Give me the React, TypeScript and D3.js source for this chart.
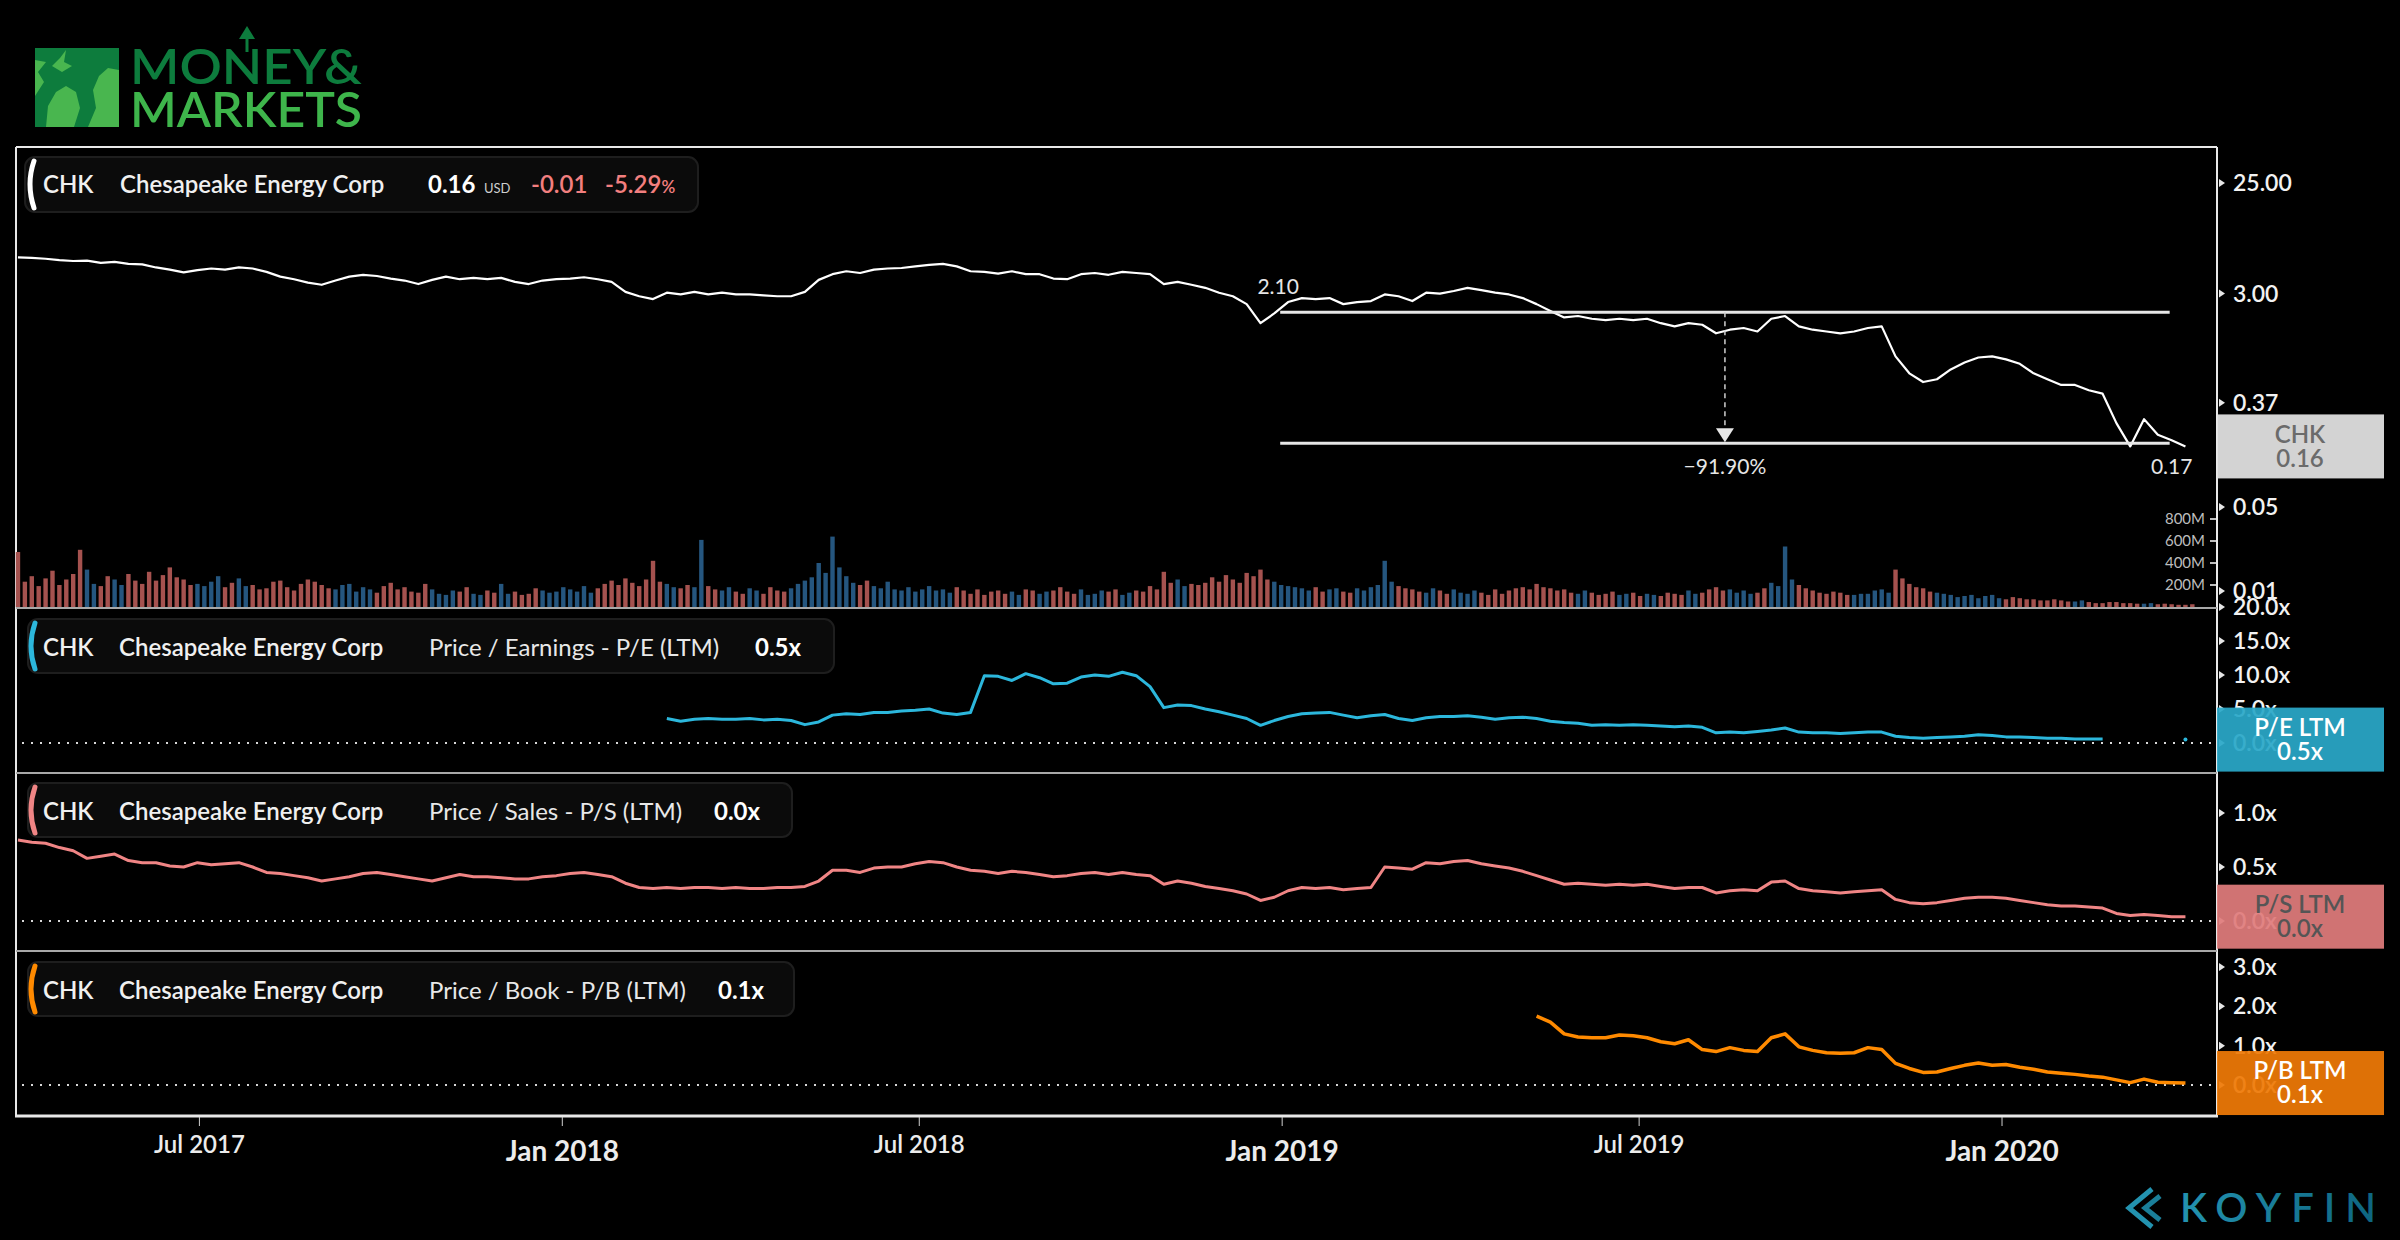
import React from "react";
import * as d3 from "d3";

// weekly closes, first week ending 2017-03-31
const START = new Date(2017, 2, 31);

const priceValues = [
  6.0, 5.95, 5.85, 5.7, 5.6, 5.65, 5.4, 5.5, 5.3, 5.25,
  4.95, 4.75, 4.5, 4.7, 4.85, 4.75, 4.95, 4.85, 4.55, 4.15,
  3.95, 3.7, 3.55, 3.85, 4.15, 4.3, 4.2, 4.0, 3.85, 3.6,
  3.9, 4.15, 3.95, 4.05, 3.95, 4.05, 3.75, 3.6, 3.85, 3.95,
  4.0, 4.1, 3.95, 3.75, 3.1, 2.85, 2.7, 3.05, 2.95, 3.1,
  2.95, 3.05, 2.95, 2.95, 2.9, 2.85, 2.85, 3.1, 3.9, 4.35,
  4.6, 4.45, 4.75, 4.85, 4.9, 5.05, 5.2, 5.3, 5.05, 4.6,
  4.55, 4.4, 4.6, 4.35, 4.35, 4.0, 3.95, 4.35, 4.45, 4.3,
  4.55, 4.45, 4.35, 3.6, 3.75, 3.55, 3.35, 3.05, 2.85, 2.45,
  1.7, 2.05, 2.55, 2.75, 2.7, 2.75, 2.45, 2.55, 2.6, 2.95,
  2.85, 2.6, 3.05, 3.0, 3.15, 3.35, 3.2, 3.05, 2.95, 2.75,
  2.45, 2.15, 1.9, 1.95, 1.85, 1.8, 1.85, 1.8, 1.85, 1.7,
  1.6, 1.7, 1.65, 1.4, 1.5, 1.55, 1.45, 1.85, 1.95, 1.6,
  1.5, 1.45, 1.4, 1.45, 1.55, 1.6, 0.9, 0.65, 0.55, 0.58,
  0.7, 0.8, 0.88, 0.9, 0.85, 0.78, 0.65, 0.58, 0.52, 0.52,
  0.47, 0.44, 0.25, 0.16, 0.27, 0.2, 0.18, 0.16,
];

const psValues = [
  0.75, 0.73, 0.72, 0.68, 0.65, 0.58, 0.6, 0.62, 0.56, 0.54,
  0.54, 0.51, 0.5, 0.54, 0.52, 0.53, 0.54, 0.5, 0.45, 0.44,
  0.42, 0.4, 0.37, 0.39, 0.41, 0.44, 0.45, 0.43, 0.41, 0.39,
  0.37, 0.4, 0.43, 0.41, 0.41, 0.4, 0.39, 0.39, 0.41, 0.42,
  0.44, 0.45, 0.43, 0.41, 0.35, 0.31, 0.3, 0.31, 0.3, 0.31,
  0.31, 0.3, 0.31, 0.3, 0.3, 0.31, 0.31, 0.32, 0.37, 0.47,
  0.47, 0.45, 0.49, 0.5, 0.5, 0.53, 0.55, 0.54, 0.5, 0.47,
  0.46, 0.44, 0.46, 0.45, 0.43, 0.41, 0.42, 0.44, 0.45, 0.43,
  0.45, 0.43, 0.42, 0.34, 0.37, 0.35, 0.32, 0.3, 0.28, 0.25,
  0.19, 0.22, 0.28, 0.31, 0.3, 0.31, 0.29, 0.3, 0.31, 0.5,
  0.49, 0.48, 0.54, 0.53, 0.55, 0.56, 0.53, 0.51, 0.49, 0.46,
  0.42, 0.38, 0.34, 0.35, 0.34, 0.33, 0.34, 0.33, 0.34, 0.32,
  0.3, 0.31, 0.31, 0.26, 0.28, 0.29, 0.28, 0.36, 0.37, 0.3,
  0.28, 0.27, 0.26, 0.27, 0.28, 0.29, 0.2, 0.17, 0.16, 0.17,
  0.19, 0.21, 0.22, 0.22, 0.21, 0.19, 0.17, 0.15, 0.14, 0.14,
  0.13, 0.12, 0.07, 0.05, 0.06, 0.05, 0.04, 0.04,
];

const peStartWeek = 47;
const peValues = [
  3.6, 3.2, 3.5, 3.6, 3.5, 3.5, 3.6, 3.4, 3.5, 3.3,
  2.7, 3.1, 4.1, 4.3, 4.2, 4.5, 4.5, 4.7, 4.8, 5.0,
  4.4, 4.2, 4.5, 9.9, 9.8, 9.2, 10.2, 9.6, 8.7, 8.8,
  9.7, 10.0, 9.8, 10.4, 9.9, 8.3, 5.2, 5.6, 5.5, 5.0,
  4.6, 4.1, 3.6, 2.6, 3.3, 3.9, 4.3, 4.4, 4.5, 4.1,
  3.7, 4.0, 4.2, 3.6, 3.3, 3.7, 3.9, 3.9, 4.0, 3.8,
  3.5, 3.7, 3.8, 3.6, 3.2, 3.0, 2.9, 2.6, 2.7, 2.6,
  2.7, 2.6, 2.5, 2.4, 2.5, 2.3, 1.5, 1.6, 1.5, 1.7,
  1.9, 2.2, 1.6, 1.5, 1.5, 1.4, 1.5, 1.6, 1.6, 1.0,
  0.8, 0.7, 0.8, 0.9, 1.0, 1.2, 1.1, 0.9, 0.9, 0.8,
  0.7, 0.7, 0.6, 0.6, 0.6,
];
const peLastWeek = 157;
const peLast = 0.5;

const pbStartWeek = 110;
const pbValues = [
  1.75, 1.6, 1.3, 1.22, 1.2, 1.2, 1.27, 1.25, 1.2, 1.1,
  1.05, 1.15, 0.9, 0.85, 0.95, 0.88, 0.85, 1.2, 1.3, 0.97,
  0.88, 0.82, 0.81, 0.82, 0.95, 0.9, 0.55, 0.42, 0.32, 0.33,
  0.42, 0.5, 0.56, 0.5, 0.52, 0.45, 0.4, 0.33, 0.3, 0.27,
  0.23, 0.2, 0.13, 0.06, 0.15, 0.07, 0.06, 0.05,
];

// volume in millions, two bars per week
const volumeValues = [
  500, 230, 280, 190, 260, 330, 200, 250, 300, 520, 340, 210, 190, 280, 250, 200, 300, 240, 210, 320,
  240, 290, 360, 270, 250, 200, 210, 190, 230, 280, 180, 220, 260, 190, 200, 160, 170, 230, 240, 180,
  150, 210, 250, 230, 200, 170, 160, 200, 210, 140, 180, 160, 130, 190, 220, 160, 180, 140, 130, 210,
  160, 120, 110, 150, 140, 180, 120, 110, 150, 130, 210, 120, 140, 110, 120, 170, 150, 130, 140, 180,
  160, 140, 190, 130, 170, 210, 240, 200, 260, 220, 190, 250, 420, 230, 210, 180, 170, 200, 180, 610,
  190, 160, 150, 180, 140, 120, 170, 150, 120, 180, 150, 140, 170, 210, 240, 270, 400, 310, 640, 360,
  280, 220, 200, 240, 190, 170, 230, 160, 150, 180, 140, 160, 190, 150, 160, 130, 180, 150, 120, 160,
  110, 140, 150, 120, 140, 110, 160, 150, 120, 140, 150, 180, 140, 120, 160, 110, 120, 150, 140, 160,
  110, 130, 150, 140, 190, 160, 320, 220, 250, 190, 210, 200, 220, 270, 230, 290, 250, 220, 310, 280,
  340, 250, 230, 200, 190, 180, 170, 150, 180, 140, 160, 170, 140, 130, 170, 150, 180, 200, 420, 230,
  190, 170, 160, 140, 130, 170, 150, 120, 160, 130, 120, 150, 130, 110, 160, 120, 150, 170, 180, 160,
  210, 180, 170, 150, 160, 130, 120, 150, 130, 110, 120, 140, 110, 120, 130, 100, 120, 110, 100, 130,
  120, 110, 150, 120, 130, 160, 180, 150, 160, 130, 150, 120, 130, 170, 220, 190, 550, 250, 200, 170,
  150, 130, 120, 140, 130, 110, 110, 120, 120, 150, 160, 130, 340, 260, 210, 180, 170, 140, 130, 120,
  110, 90, 100, 110, 80, 100, 110, 80, 70, 90, 80, 70, 70, 60, 60, 70, 60, 50, 50, 60,
  45, 35, 35, 45, 45, 35, 35, 30, 30, 35, 25, 30, 25, 20, 20, 25,
];

const priceTicks = [25, 3, 0.37, 0.05, 0.01];
const volumeTicks = [200, 400, 600, 800];
const peTicks = [0, 5, 10, 15, 20];
const psTicks = [0, 0.5, 1];
const pbTicks = [0, 1, 2, 3];
const xTickDates = ["2017-07-01", "2018-01-01", "2018-07-01", "2019-01-01", "2019-07-01", "2020-01-01"];

// drawdown annotation
const annStart = "2018-12-31";
const annEnd = "2020-03-26";
const annFrom = 2.1;
const annTo = 0.17;

const FONT = "Lato, 'Open Sans', sans-serif";
const parseDay = d3.timeParse("%Y-%m-%d");
const weekDate = (i: number) => d3.timeDay.offset(START, 7 * i);

const x = d3.scaleTime().domain([new Date(2017, 2, 30), new Date(2020, 3, 19)]).range([16, 2217]);
const yPrice = d3.scaleLog().domain([25, 0.01]).range([183, 591]);
const yVol = d3.scaleLinear().domain([0, 800]).range([607, 519]);
const yPE = d3.scaleLinear().domain([0, 20]).range([743, 607]);
const yPS = d3.scaleLinear().domain([0, 1]).range([921, 813]);
const yPB = d3.scaleLinear().domain([0, 3]).range([1085, 967]);

const PLOT_L = 16;
const PLOT_R = 2217;

function AxisLabels({ ticks, scale, fmt }: { ticks: number[]; scale: any; fmt: (v: number) => string }) {
  return (
    <g>
      {ticks.map((t) => {
        const y = scale(t);
        return (
          <g key={t}>
            <path d={`M${PLOT_R + 2},${y - 4}L${PLOT_R + 8},${y}L${PLOT_R + 2},${y + 4}Z`} fill="#e6e6e6" />
            <text x={PLOT_R + 16} y={y} dy="0.35em" fill="#f2f2f2" fontSize={23} fontWeight={600} fontFamily={FONT}>
              {fmt(t)}
            </text>
          </g>
        );
      })}
    </g>
  );
}

function Tag({ cy, fill, color, l1, l2 }: { cy: number; fill: string; color: string; l1: string; l2: string }) {
  const top = cy - 32;
  return (
    <g fontFamily={FONT} textAnchor="middle" fontSize={24}>
      <rect x={PLOT_R} y={top} width={167} height={64} fill={fill} fillOpacity={0.93} />
      <text x={2300} y={top + 20} dy="0.35em" fill={color} fontWeight={600}>{l1}</text>
      <text x={2300} y={top + 44} dy="0.35em" fill={color} fontWeight={600}>{l2}</text>
    </g>
  );
}

function PanelHeader({ top, color, metric, value, width, valueX }: { top: number; color: string; metric: string; value: string; width: number; valueX: number }) {
  const base = top + 37;
  return (
    <g fontFamily={FONT} fontSize={24}>
      <rect x={28} y={top} width={width} height={54} rx={10} fill="#0b0b0b" stroke="#1e1e1e" strokeWidth={2} />
      <path d={`M35,${top + 4}Q27,${top + 27} 35,${top + 50}`} fill="none" stroke={color} strokeWidth={5} strokeLinecap="round" />
      <text x={43} y={base} fill="#f0f0f0" fontWeight={600}>CHK</text>
      <text x={119} y={base} fill="#f0f0f0" fontWeight={600}>Chesapeake Energy Corp</text>
      <text x={429} y={base} fill="#e8e8e8">{metric}</text>
      <text x={valueX} y={base} fill="#ffffff" fontWeight={700}>{value}</text>
    </g>
  );
}

export default function App() {
  const priceLine = d3.line<number>().x((_, i) => x(weekDate(i))).y((d) => yPrice(d));
  const psLine = d3.line<number>().x((_, i) => x(weekDate(i))).y((d) => yPS(d));
  const peLine = d3.line<number>().x((_, i) => x(weekDate(peStartWeek + i))).y((d) => yPE(d));
  const pbLine = d3.line<number>().x((_, i) => x(weekDate(pbStartWeek + i))).y((d) => yPB(d));

  const barW = 4.4;
  const bars = volumeValues.map((v, j) => {
    const w = Math.floor(j / 2);
    const up = w > 0 && priceValues[w] >= priceValues[w - 1];
    const cx = x(d3.timeHour.offset(START, 84 * j));
    return { x: cx - barW / 2, y: yVol(v), h: yVol(0) - yVol(v), c: up ? "#25567f" : "#a5524f" };
  });

  const ax0 = x(parseDay(annStart) as Date);
  const ax1 = x(parseDay(annEnd) as Date);
  const axm = (ax0 + ax1) / 2;
  const ay0 = yPrice(annFrom);
  const ay1 = yPrice(annTo);
  const pct = d3.format(".2%")((annTo - annFrom) / annFrom);

  const lastPrice = priceValues[priceValues.length - 1];
  const lastPS = psValues[psValues.length - 1];
  const lastPB = pbValues[pbValues.length - 1];

  const fmtX = d3.timeFormat("%b %Y");

  return (
    <svg width={2400} height={1240} style={{ position: "absolute", left: 0, top: 0, display: "block" }}>
      <rect width={2400} height={1240} fill="#000" />

      {/* Money & Markets logo */}
      <g>
        <rect x={35} y={48} width={84} height={79} fill="#49b64f" />
        <path d="M35,48H119V70L108,68L99,76L93,90L96,108L88,127H74L80,108L76,92L66,86L56,92L48,106L46,127H35V96L44,82L38,72L46,62L35,60Z" fill="#0d7c3d" />
        <path d="M52,66L60,58L66,50L64,62L72,66L62,72Z" fill="#49b64f" />
        <text x={130} y={84} fontSize={48} fontWeight={600} fill="#0d7c3d" fontFamily={FONT} textLength={232} lengthAdjust="spacingAndGlyphs">MONEY&amp;</text>
        <text x={130} y={127} fontSize={48} fontWeight={600} fill="#3eb54b" fontFamily={FONT} textLength={232} lengthAdjust="spacingAndGlyphs">MARKETS</text>
        <line x1={247} y1={36} x2={247} y2={52} stroke="#0d7c3d" strokeWidth={3} />
        <path d="M239,39L247,26L255,39Z" fill="#0d7c3d" />
      </g>

      {/* frame and panel separators */}
      <g fill="none">
        <line x1={PLOT_L} x2={PLOT_R} y1={147} y2={147} stroke="#e8e8e8" strokeWidth={2} />
        <line x1={PLOT_L} x2={PLOT_L} y1={147} y2={1117} stroke="#e8e8e8" strokeWidth={2} />
        <line x1={PLOT_R} x2={PLOT_R} y1={147} y2={1117} stroke="#e8e8e8" strokeWidth={2} />
        <line x1={PLOT_L} x2={PLOT_R} y1={608} y2={608} stroke="#a8a8a8" strokeWidth={2} />
        <line x1={PLOT_L} x2={PLOT_R} y1={773} y2={773} stroke="#a8a8a8" strokeWidth={2} />
        <line x1={PLOT_L} x2={PLOT_R} y1={951} y2={951} stroke="#a8a8a8" strokeWidth={2} />
        <line x1={PLOT_L - 1} x2={PLOT_R + 1} y1={1116} y2={1116} stroke="#e8e8e8" strokeWidth={3} />
      </g>

      {/* zero lines */}
      <g stroke="#d8d8d8" strokeWidth={2} strokeDasharray="2 7">
        <line x1={22} x2={PLOT_R - 3} y1={yPE(0)} y2={yPE(0)} />
        <line x1={22} x2={PLOT_R - 3} y1={yPS(0)} y2={yPS(0)} />
        <line x1={22} x2={PLOT_R - 3} y1={yPB(0)} y2={yPB(0)} />
      </g>

      {/* volume */}
      <g>
        {bars.map((b, i) => (
          <rect key={i} x={b.x} y={b.y} width={barW} height={b.h} fill={b.c} />
        ))}
      </g>
      <g fontFamily={FONT} fontSize={15} fill="#bdbdbd" textAnchor="end">
        {volumeTicks.map((t) => (
          <g key={t}>
            <line x1={PLOT_R - 7} x2={PLOT_R - 1} y1={yVol(t)} y2={yVol(t)} stroke="#bdbdbd" strokeWidth={2} />
            <text x={PLOT_R - 12} y={yVol(t)} dy="0.35em">{t}M</text>
          </g>
        ))}
      </g>

      {/* series lines */}
      <path d={priceLine(priceValues) || ""} fill="none" stroke="#ffffff" strokeWidth={2.2} strokeLinejoin="round" />
      <path d={peLine(peValues) || ""} fill="none" stroke="#2cb7dc" strokeWidth={3} strokeLinejoin="round" />
      <circle cx={x(weekDate(peLastWeek))} cy={yPE(peLast)} r={2} fill="#2cb7dc" />
      <path d={psLine(psValues) || ""} fill="none" stroke="#f08585" strokeWidth={3} strokeLinejoin="round" />
      <path d={pbLine(pbValues) || ""} fill="none" stroke="#ff8a00" strokeWidth={3.5} strokeLinejoin="round" />

      {/* drawdown annotation */}
      <g fontFamily={FONT} fontSize={21} fill="#e6e6e6">
        <line x1={ax0} x2={ax1} y1={ay0} y2={ay0} stroke="#e6e6e6" strokeWidth={3} />
        <line x1={ax0} x2={ax1} y1={ay1} y2={ay1} stroke="#e6e6e6" strokeWidth={3} />
        <line x1={axm} x2={axm} y1={ay0} y2={ay1 - 14} stroke="#cfcfcf" strokeWidth={1.5} strokeDasharray="5 4" />
        <path d={`M${axm - 9},${ay1 - 15}L${axm + 9},${ay1 - 15}L${axm},${ay1 - 1}Z`} fill="#e6e6e6" />
        <text x={ax0 - 2} y={ay0 - 18} textAnchor="middle">{annFrom.toFixed(2)}</text>
        <text x={axm} y={ay1 + 31} textAnchor="middle">{pct}</text>
        <text x={ax1 + 2} y={ay1 + 31} textAnchor="middle">{annTo.toFixed(2)}</text>
      </g>

      {/* headers */}
      <g fontFamily={FONT} fontSize={24}>
        <rect x={25} y={157} width={673} height={55} rx={10} fill="#0b0b0b" stroke="#1e1e1e" strokeWidth={2} />
        <path d="M34,161Q26,184 34,208" fill="none" stroke="#ffffff" strokeWidth={5} strokeLinecap="round" />
        <text x={43} y={193} fill="#f0f0f0" fontWeight={600}>CHK</text>
        <text x={120} y={193} fill="#f0f0f0" fontWeight={600}>Chesapeake Energy Corp</text>
        <text x={428} y={193} fill="#ffffff" fontWeight={700}>{lastPrice.toFixed(2)}</text>
        <text x={484} y={193} fill="#cfcfcf" fontSize={13}>USD</text>
        <text x={531} y={193} fill="#f27f7f" fontWeight={600}>-0.01</text>
        <text x={605} y={193} fill="#f27f7f" fontWeight={600}>-5.29<tspan fontSize={17}>%</tspan></text>
      </g>
      <PanelHeader top={619} color="#2cb7dc" metric="Price / Earnings - P/E (LTM)" value={`${peLast.toFixed(1)}x`} width={806} valueX={755} />
      <PanelHeader top={783} color="#f08585" metric="Price / Sales - P/S (LTM)" value={`${lastPS.toFixed(1)}x`} width={764} valueX={714} />
      <PanelHeader top={962} color="#ff8a00" metric="Price / Book - P/B (LTM)" value={`${lastPB.toFixed(1)}x`} width={766} valueX={718} />

      {/* right axes */}
      <AxisLabels ticks={priceTicks} scale={yPrice} fmt={(v) => v.toFixed(2)} />
      <AxisLabels ticks={peTicks} scale={yPE} fmt={(v) => `${v.toFixed(1)}x`} />
      <AxisLabels ticks={psTicks} scale={yPS} fmt={(v) => `${v.toFixed(1)}x`} />
      <AxisLabels ticks={pbTicks} scale={yPB} fmt={(v) => `${v.toFixed(1)}x`} />

      {/* last-value tags */}
      <Tag cy={yPrice(lastPrice)} fill="#e3e3e3" color="#6b6b6b" l1="CHK" l2={lastPrice.toFixed(2)} />
      <Tag cy={yPE(peLast)} fill="#2aa8c8" color="#ffffff" l1="P/E LTM" l2={`${peLast.toFixed(1)}x`} />
      <Tag cy={yPS(lastPS)} fill="#e07c7c" color="#555555" l1="P/S LTM" l2={`${lastPS.toFixed(1)}x`} />
      <Tag cy={yPB(lastPB)} fill="#ef7a06" color="#ffffff" l1="P/B LTM" l2={`${lastPB.toFixed(1)}x`} />

      {/* x axis */}
      <g fontFamily={FONT} textAnchor="middle" fill="#ececec">
        {xTickDates.map((s) => {
          const d = parseDay(s) as Date;
          const jan = d.getMonth() === 0;
          const px = x(d);
          return (
            <g key={s}>
              <line x1={px} x2={px} y1={1117} y2={1126} stroke="#cfcfcf" strokeWidth={1} />
              <text x={px} y={jan ? 1161 : 1153} fontSize={jan ? 28 : 24} fontWeight={jan ? 700 : 600}>
                {fmtX(d)}
              </text>
            </g>
          );
        })}
      </g>

      {/* Koyfin logo */}
      <defs>
        <linearGradient id="kf" x1="0" x2="1" y1="0" y2="0">
          <stop offset="0" stopColor="#2393b0" />
          <stop offset="1" stopColor="#0e6580" />
        </linearGradient>
      </defs>
      <g>
        <path d="M2152,1189L2129,1208L2152,1227" fill="none" stroke="#2393b0" strokeWidth={5} />
        <path d="M2160,1196L2145,1208L2160,1220" fill="none" stroke="#1a7f9a" strokeWidth={5} />
        <text x={2180} y={1222} fontSize={40} fontFamily={FONT} fontWeight={600} fill="url(#kf)" textLength={196} lengthAdjust="spacing">KOYFIN</text>
      </g>
    </svg>
  );
}
